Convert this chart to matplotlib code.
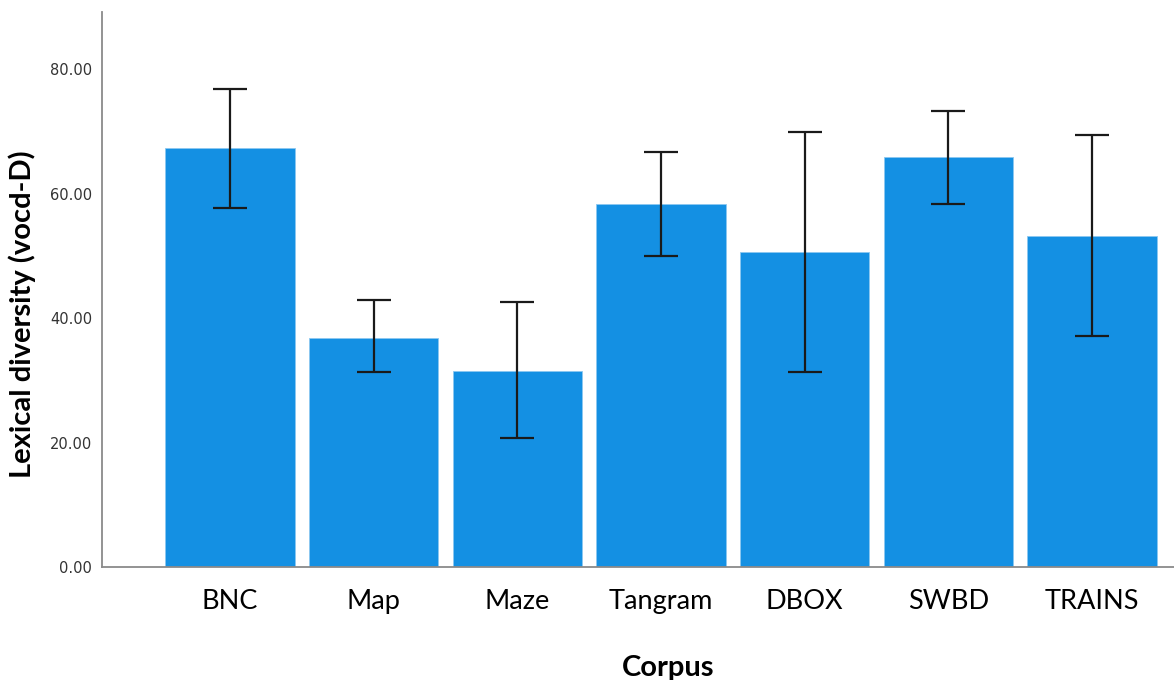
import matplotlib.pyplot as plt
import numpy as np

# lexical diversity per corpus (means and 95% CI bounds)
corpora = ["BNC", "Map", "Maze", "Tangram", "DBOX", "SWBD", "TRAINS"]
means = [67.3, 36.9, 31.5, 58.3, 50.6, 65.9, 53.2]
ci_low = [57.8, 31.3, 20.7, 50.0, 31.3, 58.3, 37.1]
ci_high = [76.8, 42.9, 42.6, 66.8, 70.0, 73.4, 69.4]
yticks = [0, 20, 40, 60, 80]

fig = plt.figure(figsize=(11.74, 6.8), dpi=100)
ax = fig.add_axes([0.0869, 0.166, 0.913, 0.816])

x = np.arange(len(corpora))
m = np.array(means)
yerr = [m - np.array(ci_low), np.array(ci_high) - m]
ax.bar(x, means, width=0.9, color="#1490e3", edgecolor="#8cc8f0", linewidth=0.6, zorder=2)
ax.errorbar(x, means, yerr=yerr, fmt="none", ecolor="#1a1a1a", elinewidth=1.6,
            capsize=12.5, capthick=1.6, zorder=3)

ax.set_xlim(-0.89, 6.57)
ax.set_ylim(0, 89.2)
ax.set_yticks(yticks)
ax.set_yticklabels(["%.2f" % v for v in yticks], fontsize=10.5, color="#333333")
ax.set_xticks(x)
ax.set_xticklabels(corpora, fontsize=19.5, family="Lato")
ax.tick_params(axis="y", length=0, pad=7)
ax.tick_params(axis="x", length=0, pad=16)

for s in ["top", "right"]:
    ax.spines[s].set_visible(False)
for s in ["left", "bottom"]:
    ax.spines[s].set_color("#8a8a8a")
    ax.spines[s].set_linewidth(1.3)

ax.set_ylabel("Lexical diversity (vocd-D)", fontsize=21, fontweight="bold", family="Lato")
ax.yaxis.set_label_coords(-0.062, 0.456)
ax.set_xlabel("Corpus", fontsize=21, fontweight="bold", family="Lato")
ax.xaxis.set_label_coords(0.528, -0.158)

fig.savefig("out.png", dpi=100)
